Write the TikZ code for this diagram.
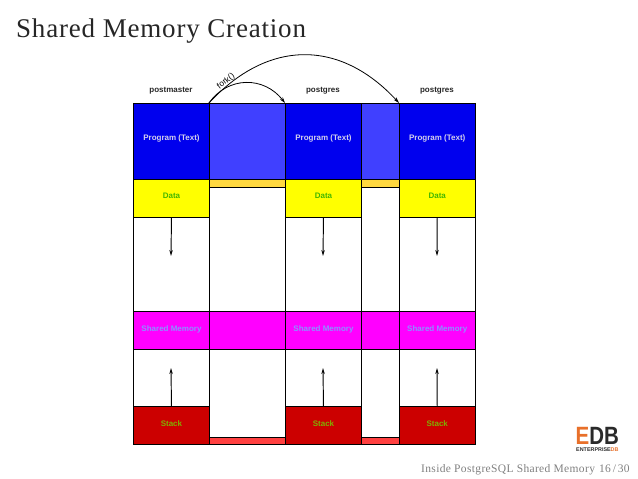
\documentclass[tikz,border=0pt]{standalone}
\usepackage{fontspec}
\setmainfont{Liberation Serif}
\newfontfamily\spacedserif[LetterSpace=3]{Liberation Serif}
\newfontfamily\diagfont{Liberation Sans}
\usetikzlibrary{arrows.meta}
\definecolor{progblue}{HTML}{0000EE}
\definecolor{paleblue}{HTML}{4040FF}
\definecolor{datayellow}{HTML}{FFFF00}
\definecolor{paleorange}{HTML}{FFD840}
\definecolor{shmag}{HTML}{FF00FF}
\definecolor{stackred}{HTML}{CC0000}
\definecolor{palered}{HTML}{FF4040}
\definecolor{edbor}{HTML}{E8702A}
\definecolor{edbdk}{HTML}{2A2A2A}
\definecolor{progtxt}{HTML}{D4D0EC}
\definecolor{datatxt}{HTML}{44B800}
\definecolor{shmtxt}{HTML}{8C90FF}
\definecolor{stacktxt}{HTML}{80B000}
\tikzset{
  seg/.style={draw=black,line width=0.95pt,inner sep=0pt,anchor=north west,
    font=\diagfont\bfseries\fontsize{8}{9}\selectfont,text height=6pt},
  progseg/.style={seg,fill=progblue,text=progtxt,text depth=8pt,minimum width=76pt,minimum height=76pt},
  dataseg/.style={seg,fill=datayellow,text=datatxt,text depth=6pt,minimum width=76pt,minimum height=38pt},
  shmseg/.style={seg,fill=shmag,text=shmtxt,text depth=4pt,minimum width=76pt,minimum height=38pt},
  stackseg/.style={seg,fill=stackred,text=stacktxt,text depth=4pt,minimum width=76pt,minimum height=38pt},
  emptyseg/.style={seg,fill=white},
  proc/.style={font=\diagfont\bfseries\fontsize{8}{9}\selectfont,text=black!85,inner sep=0pt},
  growth/.style={-{Stealth[length=6pt,width=3.4pt]},line width=0.95pt,black},
  forkarc/.style={-{Stealth[length=6pt,width=3.6pt]},line width=0.8pt,black},
}
\begin{document}
\begin{tikzpicture}[x=1pt,y=-1pt]
\useasboundingbox (0,0) rectangle (638,479);
\node[anchor=base west,inner sep=0pt,text=black!85,font=\spacedserif\fontsize{27}{30}\selectfont] (title) at (16,37.5) {Shared Memory Creation};

% process 1
\node[emptyseg,minimum width=76pt,minimum height=341pt] (bgA) at (133,103) {};
\node[progseg] (progA) at (133,103) {Program (Text)};
\node[dataseg] (dataA) at (133,179) {Data};
\node[shmseg] (shmA) at (133,311) {Shared Memory};
\node[stackseg] (stackA) at (133,406) {Stack};
% gap 1
\node[emptyseg,minimum width=76pt,minimum height=341pt] (bgG) at (209,103) {};
\node[seg,fill=paleblue,minimum width=76pt,minimum height=76pt] (progG) at (209,103) {};
\node[seg,fill=paleorange,minimum width=76pt,minimum height=8pt,text height=0pt] (dataG) at (209,179) {};
\node[seg,fill=shmag,minimum width=76pt,minimum height=38pt] (shmG) at (209,311) {};
\node[seg,fill=palered,minimum width=76pt,minimum height=7pt,text height=0pt] (stackG) at (209,437) {};
% process 2
\node[emptyseg,minimum width=76pt,minimum height=341pt] (bgB) at (285,103) {};
\node[progseg] (progB) at (285,103) {Program (Text)};
\node[dataseg] (dataB) at (285,179) {Data};
\node[shmseg] (shmB) at (285,311) {Shared Memory};
\node[stackseg] (stackB) at (285,406) {Stack};
% gap 2
\node[emptyseg,minimum width=38pt,minimum height=341pt] (bgH) at (361,103) {};
\node[seg,fill=paleblue,minimum width=38pt,minimum height=76pt] (progH) at (361,103) {};
\node[seg,fill=paleorange,minimum width=38pt,minimum height=8pt,text height=0pt] (dataH) at (361,179) {};
\node[seg,fill=shmag,minimum width=38pt,minimum height=38pt] (shmH) at (361,311) {};
\node[seg,fill=palered,minimum width=38pt,minimum height=7pt,text height=0pt] (stackH) at (361,437) {};
% process 3
\node[emptyseg,minimum width=75.5pt,minimum height=341pt] (bgC) at (399,103) {};
\node[progseg,minimum width=75.5pt] (progC) at (399,103) {Program (Text)};
\node[dataseg,minimum width=75.5pt] (dataC) at (399,179) {Data};
\node[shmseg,minimum width=75.5pt] (shmC) at (399,311) {Shared Memory};
\node[stackseg,minimum width=75.5pt] (stackC) at (399,406) {Stack};

% labels
\node[proc] (lA) at (171,91) {postmaster};
\node[proc] (lB) at (323,91) {postgres};
\node[proc] (lC) at (437,91) {postgres};

% growth arrows
\coordinate (downA) at (171,256);
\coordinate (downB) at (323,256);
\coordinate (downC) at (437,256);
\coordinate (upA) at (171,368);
\coordinate (upB) at (323,368);
\coordinate (upC) at (437,368);
\draw[growth] (dataA.south) -- (downA);
\draw[growth] (dataB.south) -- (downB);
\draw[growth] (dataC.south) -- (downC);
\draw[growth] (stackA.north) -- (upA);
\draw[growth] (stackB.north) -- (upB);
\draw[growth] (stackC.north) -- (upC);

% fork arcs
\draw[forkarc] (progG.north west) .. controls (228,76) and (264,76) .. (progB.north west);
\draw[forkarc] (progG.north west) .. controls (268,39) and (340,39) .. (progC.north west);
\node[font=\diagfont\fontsize{8.4}{9}\selectfont,inner sep=0pt,rotate=38,text=black] (forklabel) at (226,81.5) {fork()};

% logo
\node[inner sep=0pt,anchor=base west,xscale=0.82,font=\diagfont\bfseries\fontsize{25}{26}\selectfont] (logo) at (575.5,444) {\textcolor{edbor}{E}\textcolor{edbdk}{DB}};
\node[inner sep=0pt,anchor=base west,font=\diagfont\bfseries\fontsize{5.4}{6}\selectfont,text=edbdk] (logosub) at (576,451.5) {ENTERPRISE\textcolor{edbor}{DB}};

% footer
\node[inner sep=0pt,anchor=base west,text=black!50,font=\spacedserif\fontsize{11.5}{13}\selectfont] (footer) at (421,472) {Inside PostgreSQL Shared Memory\hspace{4pt}16\,/\,30};
\end{tikzpicture}
\end{document}
